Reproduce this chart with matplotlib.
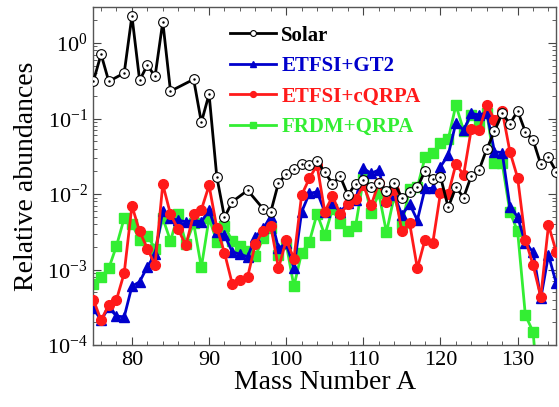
import numpy as np
import matplotlib
matplotlib.use('Agg')
import matplotlib.pyplot as plt
from matplotlib.ticker import MultipleLocator, LogLocator, NullFormatter

plt.rcParams['font.family'] = ['Liberation Serif', 'DejaVu Serif']
plt.rcParams['mathtext.fontset'] = 'custom'
plt.rcParams['mathtext.rm'] = 'Liberation Serif'

# solar r-process abundances (some mass numbers missing)
solar_A = [75, 76, 77, 79, 80, 81, 82, 83, 84, 85, 88, 89, 90, 91, 92, 93, 95,
           97, 98, 99, 100, 101, 102, 103, 104, 105, 106, 107, 108, 109, 110,
           111, 112, 113, 114, 115, 116, 117, 118, 119, 120, 121, 122, 123,
           124, 125, 126, 127, 128, 129, 130, 131, 132, 133, 134, 135]
solar = [0.31, 0.71, 0.31, 0.40, 2.28, 0.32, 0.51, 0.36, 1.91, 0.23, 0.33,
         0.089, 0.21, 0.017, 0.0049, 0.0079, 0.0112, 0.0064, 0.0058, 0.0141,
         0.0182, 0.0212, 0.0249, 0.024, 0.0276, 0.0194, 0.0137, 0.0171,
         0.0097, 0.0137, 0.0153, 0.0125, 0.014, 0.011, 0.0141, 0.0089, 0.0107,
         0.0123, 0.0202, 0.0157, 0.0169, 0.0067, 0.0123, 0.0090, 0.0175,
         0.0208, 0.0394, 0.068, 0.117, 0.0846, 0.126, 0.0668, 0.0519, 0.0247,
         0.0305, 0.0198]

model_A = np.arange(75, 136)
etfsi_gt2 = [3.06e-4, 2.14e-4, 3.15e-4, 2.42e-4, 2.37e-4, 6.0e-4, 6.9e-4,
             1.09e-3, 1.59e-3, 6.0e-3, 4.77e-3, 4.5e-3, 4.3e-3, 4.5e-3, 4.3e-3,
             6.1e-3, 3.1e-3, 2.86e-3, 1.72e-3, 1.6e-3, 1.48e-3, 2.72e-3,
             3.5e-3, 5.0e-3, 1.91e-3, 2.22e-3, 1.04e-3, 5.8e-3, 0.0102,
             0.0107, 5.8e-3, 7.5e-3, 5.8e-3, 7.5e-3, 8.3e-3, 0.0219, 0.0188,
             0.0208, 8.3e-3, 9.7e-3, 5.3e-3, 7.4e-3, 4.5e-3, 0.0119, 0.0119,
             0.023, 0.0329, 0.088, 0.070, 0.117, 0.111, 0.12, 0.0363, 0.0354,
             6.8e-3, 5.0e-3, 2.22e-3, 1.72e-3, 4.15e-4, 1.56e-3, 6.6e-4]
etfsi_cqrpa = [4.0e-4, 2.14e-4, 3.4e-4, 4.0e-4, 9.0e-4, 7.0e-3, 3.2e-3,
               1.9e-3, 1.15e-3, 0.0135, 5.4e-3, 3.4e-3, 2.1e-3, 5.4e-3,
               6.2e-3, 0.013, 3.6e-3, 1.67e-3, 6.5e-4, 7.2e-4, 8.0e-4, 2.2e-3,
               3.2e-3, 3.8e-3, 1.04e-3, 2.46e-3, 1.4e-3, 9.7e-3, 0.0161,
               0.0242, 5.8e-3, 9.4e-3, 5.4e-3, 7.3e-3, 8.5e-3, 0.0132, 7.1e-3,
               0.0139, 7.8e-3, 0.0113, 3.2e-3, 4.1e-3, 1.04e-3, 2.5e-3,
               2.26e-3, 0.0104, 9.9e-3, 0.025, 0.0179, 0.073, 0.070, 0.149,
               0.097, 0.126, 0.0363, 0.0164, 2.5e-3, 1.15e-3, 4.36e-4, 3.9e-3,
               1.72e-3]

frdm_A = np.arange(75, 134)
frdm_qrpa = [6.4e-4, 8.0e-4, 1.04e-3, 2.06e-3, 4.8e-3, 4.0e-3, 2.5e-3, 2.8e-3,
             1.9e-3, 4.8e-3, 2.4e-3, 5.4e-3, 2.2e-3, 4.1e-3, 1.07e-3, 4.8e-3,
             2.35e-3, 3.8e-3, 2.4e-3, 2.05e-3, 1.77e-3, 1.51e-3, 2.6e-3,
             3.5e-3, 1.56e-3, 2.18e-3, 6.0e-4, 1.67e-3, 2.33e-3, 5.5e-3,
             2.86e-3, 6.3e-3, 4.1e-3, 3.2e-3, 3.8e-3, 0.0157, 5.6e-3, 0.0102,
             3.1e-3, 9.4e-3, 4.0e-3, 0.0115, 0.0123, 0.0306, 0.0352, 0.0469,
             0.053, 0.151, 0.069, 0.111, 0.0846, 0.119, 0.0255, 0.0255, 5.8e-3,
             3.2e-3, 2.5e-4, 1.5e-4, 1e-5]

fig = plt.figure(figsize=(5.59, 4.07), dpi=100)
ax = fig.add_axes([0.167, 0.152, 0.828, 0.831])

ms = 7
ax.plot(model_A, etfsi_gt2, '-^', color='#0000cc', lw=2, ms=ms,
        label='ETFSI+GT2', zorder=3)
ax.plot(model_A, etfsi_cqrpa, '-o', color='#ff1a1a', lw=2, ms=ms,
        label='ETFSI+cQRPA', zorder=4)
ax.plot(frdm_A, frdm_qrpa, '-s', color='#33ee33', lw=2, ms=ms,
        label='FRDM+QRPA', zorder=2)
ax.plot(solar_A, solar, '-o', color='black', lw=2, ms=ms, mfc='white',
        mec='black', mew=0.8, label='Solar', zorder=5)
ax.plot(solar_A, solar, '.', color='black', ms=1.5, zorder=6)

ax.set_yscale('log')
ax.set_xlim(75, 135)
ax.set_ylim(1e-4, 3)
ax.xaxis.set_major_locator(MultipleLocator(10))
ax.xaxis.set_minor_locator(MultipleLocator(2))
ax.yaxis.set_minor_locator(LogLocator(base=10, subs=np.arange(2, 10)))
ax.yaxis.set_minor_formatter(NullFormatter())
ax.tick_params(which='both', direction='in', top=True, right=True,
               labelsize=16, colors='#444444', labelcolor='black')
ax.tick_params(which='major', length=6, width=0.8, pad=4)
ax.tick_params(which='minor', length=3, width=0.6)
for s in ax.spines.values():
    s.set_color('#555555')
    s.set_linewidth(1)

ax.set_xlabel('Mass Number A', fontsize=20, labelpad=0)
ax.set_ylabel('Relative abundances', fontsize=20, labelpad=6)

handles, labels = ax.get_legend_handles_labels()
order = [3, 0, 1, 2]
leg = ax.legend([handles[i] for i in order], [labels[i] for i in order],
                loc='upper left', bbox_to_anchor=(0.255, 1.0), frameon=False,
                prop={'weight': 'bold', 'size': 15}, markerscale=0.6,
                handlelength=2.2, handletextpad=0.25, labelspacing=0.5)
colors = ['black', '#0000cc', '#ff1a1a', '#33ee33']
for t, c in zip(leg.get_texts(), colors):
    t.set_color(c)

fig.savefig('out.png', dpi=100)
